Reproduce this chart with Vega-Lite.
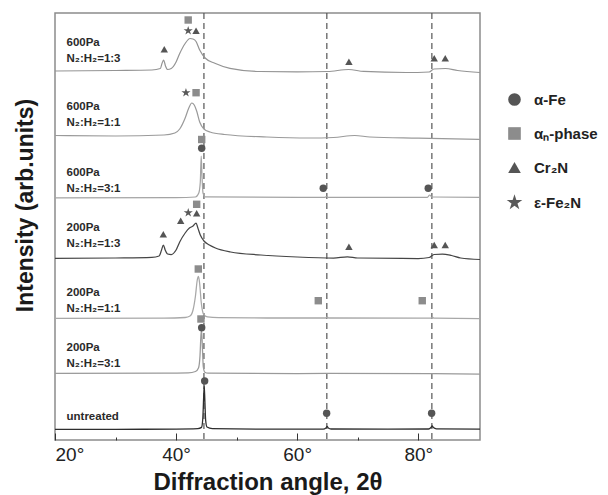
{
  "$schema": "https://vega.github.io/schema/vega-lite/v6.json",
  "width": 425,
  "height": 427,
  "autosize": {"type": "none"},
  "padding": {"left": 55, "top": 13, "right": 128, "bottom": 55},
  "background": "white",
  "config": {
    "font": "Liberation Sans",
    "view": {"stroke": "#8c8c8c", "strokeWidth": 1.5}
  },
  "datasets": {
    "refs": [{"x": 44.6}, {"x": 64.9}, {"x": 82.25}],
    "lines": [
      {"series": "untreated", "x": 20, "y": 10.6}, {"series": "untreated", "x": 30, "y": 10.7}, {"series": "untreated", "x": 40, "y": 10.9}, {"series": "untreated", "x": 43.6, "y": 11.3}, {"series": "untreated", "x": 44.2, "y": 12.6}, {"series": "untreated", "x": 44.42, "y": 22}, {"series": "untreated", "x": 44.55, "y": 42}, {"series": "untreated", "x": 44.65, "y": 54}, {"series": "untreated", "x": 44.75, "y": 40}, {"series": "untreated", "x": 44.88, "y": 20}, {"series": "untreated", "x": 45.1, "y": 13}, {"series": "untreated", "x": 46, "y": 11.4}, {"series": "untreated", "x": 55, "y": 10.9}, {"series": "untreated", "x": 64.3, "y": 10.9}, {"series": "untreated", "x": 64.75, "y": 12}, {"series": "untreated", "x": 64.95, "y": 13.6}, {"series": "untreated", "x": 65.15, "y": 12}, {"series": "untreated", "x": 65.6, "y": 11}, {"series": "untreated", "x": 75, "y": 10.8}, {"series": "untreated", "x": 81.7, "y": 11}, {"series": "untreated", "x": 82.1, "y": 12.5}, {"series": "untreated", "x": 82.3, "y": 14}, {"series": "untreated", "x": 82.5, "y": 12.5}, {"series": "untreated", "x": 83, "y": 11.2}, {"series": "untreated", "x": 90.2, "y": 10.8},
      {"series": "200Pa 3:1", "x": 20, "y": 66.6}, {"series": "200Pa 3:1", "x": 38, "y": 66.8}, {"series": "200Pa 3:1", "x": 42, "y": 67.2}, {"series": "200Pa 3:1", "x": 43.2, "y": 68.5}, {"series": "200Pa 3:1", "x": 43.7, "y": 72}, {"series": "200Pa 3:1", "x": 43.95, "y": 84}, {"series": "200Pa 3:1", "x": 44.12, "y": 106}, {"series": "200Pa 3:1", "x": 44.22, "y": 109}, {"series": "200Pa 3:1", "x": 44.35, "y": 92}, {"series": "200Pa 3:1", "x": 44.5, "y": 73}, {"series": "200Pa 3:1", "x": 44.75, "y": 67.8}, {"series": "200Pa 3:1", "x": 45.3, "y": 66.8}, {"series": "200Pa 3:1", "x": 60, "y": 66.4}, {"series": "200Pa 3:1", "x": 64.9, "y": 66.6}, {"series": "200Pa 3:1", "x": 82.3, "y": 66.4}, {"series": "200Pa 3:1", "x": 90.2, "y": 65.8},
      {"series": "200Pa 1:1", "x": 20, "y": 121.6}, {"series": "200Pa 1:1", "x": 38, "y": 121.8}, {"series": "200Pa 1:1", "x": 41.5, "y": 122.5}, {"series": "200Pa 1:1", "x": 42.3, "y": 124}, {"series": "200Pa 1:1", "x": 42.8, "y": 130}, {"series": "200Pa 1:1", "x": 43.2, "y": 144}, {"series": "200Pa 1:1", "x": 43.5, "y": 160}, {"series": "200Pa 1:1", "x": 43.7, "y": 163.5}, {"series": "200Pa 1:1", "x": 43.9, "y": 156}, {"series": "200Pa 1:1", "x": 44.15, "y": 138}, {"series": "200Pa 1:1", "x": 44.45, "y": 127}, {"series": "200Pa 1:1", "x": 44.7, "y": 124.5}, {"series": "200Pa 1:1", "x": 45.2, "y": 123.2}, {"series": "200Pa 1:1", "x": 47, "y": 122.4}, {"series": "200Pa 1:1", "x": 55, "y": 122}, {"series": "200Pa 1:1", "x": 64.7, "y": 122}, {"series": "200Pa 1:1", "x": 64.95, "y": 123}, {"series": "200Pa 1:1", "x": 65.2, "y": 122}, {"series": "200Pa 1:1", "x": 82.1, "y": 121.8}, {"series": "200Pa 1:1", "x": 82.35, "y": 122.8}, {"series": "200Pa 1:1", "x": 82.6, "y": 121.8}, {"series": "200Pa 1:1", "x": 90.2, "y": 121.4},
      {"series": "200Pa 1:3", "x": 20, "y": 181.6}, {"series": "200Pa 1:3", "x": 30, "y": 182}, {"series": "200Pa 1:3", "x": 36, "y": 182.6}, {"series": "200Pa 1:3", "x": 37.2, "y": 184}, {"series": "200Pa 1:3", "x": 37.6, "y": 190}, {"series": "200Pa 1:3", "x": 37.9, "y": 195}, {"series": "200Pa 1:3", "x": 38.2, "y": 190}, {"series": "200Pa 1:3", "x": 38.6, "y": 186}, {"series": "200Pa 1:3", "x": 39.2, "y": 185.5}, {"series": "200Pa 1:3", "x": 40, "y": 190}, {"series": "200Pa 1:3", "x": 40.6, "y": 198}, {"series": "200Pa 1:3", "x": 41.5, "y": 207}, {"series": "200Pa 1:3", "x": 42.2, "y": 212}, {"series": "200Pa 1:3", "x": 42.8, "y": 214}, {"series": "200Pa 1:3", "x": 43.3, "y": 217}, {"series": "200Pa 1:3", "x": 43.6, "y": 212}, {"series": "200Pa 1:3", "x": 44.0, "y": 205}, {"series": "200Pa 1:3", "x": 44.6, "y": 199}, {"series": "200Pa 1:3", "x": 45.5, "y": 195}, {"series": "200Pa 1:3", "x": 46.5, "y": 192}, {"series": "200Pa 1:3", "x": 49, "y": 188}, {"series": "200Pa 1:3", "x": 54, "y": 185}, {"series": "200Pa 1:3", "x": 60, "y": 183}, {"series": "200Pa 1:3", "x": 66, "y": 182}, {"series": "200Pa 1:3", "x": 68.3, "y": 183.2}, {"series": "200Pa 1:3", "x": 70, "y": 182}, {"series": "200Pa 1:3", "x": 80, "y": 181.5}, {"series": "200Pa 1:3", "x": 81.8, "y": 182.5}, {"series": "200Pa 1:3", "x": 82.6, "y": 185.5}, {"series": "200Pa 1:3", "x": 84, "y": 186}, {"series": "200Pa 1:3", "x": 85.5, "y": 184.5}, {"series": "200Pa 1:3", "x": 87, "y": 182}, {"series": "200Pa 1:3", "x": 90.2, "y": 180.5},
      {"series": "600Pa 3:1", "x": 20, "y": 242.2}, {"series": "600Pa 3:1", "x": 40, "y": 242.4}, {"series": "600Pa 3:1", "x": 43.2, "y": 243}, {"series": "600Pa 3:1", "x": 43.75, "y": 247}, {"series": "600Pa 3:1", "x": 44.0, "y": 258}, {"series": "600Pa 3:1", "x": 44.15, "y": 284}, {"series": "600Pa 3:1", "x": 44.28, "y": 264}, {"series": "600Pa 3:1", "x": 44.45, "y": 247}, {"series": "600Pa 3:1", "x": 44.8, "y": 243.2}, {"series": "600Pa 3:1", "x": 60, "y": 242.6}, {"series": "600Pa 3:1", "x": 64.5, "y": 242.6}, {"series": "600Pa 3:1", "x": 64.85, "y": 243.5}, {"series": "600Pa 3:1", "x": 65.15, "y": 242.6}, {"series": "600Pa 3:1", "x": 81.5, "y": 242.6}, {"series": "600Pa 3:1", "x": 81.9, "y": 245}, {"series": "600Pa 3:1", "x": 82.25, "y": 243}, {"series": "600Pa 3:1", "x": 90.2, "y": 242.6},
      {"series": "600Pa 1:1", "x": 20, "y": 304.5}, {"series": "600Pa 1:1", "x": 30, "y": 304}, {"series": "600Pa 1:1", "x": 38, "y": 305}, {"series": "600Pa 1:1", "x": 39.8, "y": 307}, {"series": "600Pa 1:1", "x": 40.6, "y": 311}, {"series": "600Pa 1:1", "x": 41.5, "y": 322}, {"series": "600Pa 1:1", "x": 42.1, "y": 332}, {"series": "600Pa 1:1", "x": 42.6, "y": 337}, {"series": "600Pa 1:1", "x": 43.0, "y": 335}, {"series": "600Pa 1:1", "x": 43.4, "y": 329}, {"series": "600Pa 1:1", "x": 43.9, "y": 318}, {"series": "600Pa 1:1", "x": 44.6, "y": 311}, {"series": "600Pa 1:1", "x": 45.6, "y": 308}, {"series": "600Pa 1:1", "x": 48, "y": 305.5}, {"series": "600Pa 1:1", "x": 55, "y": 303}, {"series": "600Pa 1:1", "x": 62, "y": 302}, {"series": "600Pa 1:1", "x": 66, "y": 302.5}, {"series": "600Pa 1:1", "x": 69.5, "y": 304.5}, {"series": "600Pa 1:1", "x": 72, "y": 303}, {"series": "600Pa 1:1", "x": 80, "y": 301.8}, {"series": "600Pa 1:1", "x": 90.2, "y": 300.5},
      {"series": "600Pa 1:3", "x": 20, "y": 369}, {"series": "600Pa 1:3", "x": 30, "y": 369.5}, {"series": "600Pa 1:3", "x": 36, "y": 370}, {"series": "600Pa 1:3", "x": 37.4, "y": 371.5}, {"series": "600Pa 1:3", "x": 37.7, "y": 377}, {"series": "600Pa 1:3", "x": 37.95, "y": 380}, {"series": "600Pa 1:3", "x": 38.25, "y": 374}, {"series": "600Pa 1:3", "x": 38.6, "y": 370.5}, {"series": "600Pa 1:3", "x": 39.2, "y": 371.5}, {"series": "600Pa 1:3", "x": 40, "y": 378}, {"series": "600Pa 1:3", "x": 40.6, "y": 386.5}, {"series": "600Pa 1:3", "x": 41.5, "y": 396.5}, {"series": "600Pa 1:3", "x": 42.3, "y": 401.5}, {"series": "600Pa 1:3", "x": 42.8, "y": 401}, {"series": "600Pa 1:3", "x": 43.3, "y": 398.5}, {"series": "600Pa 1:3", "x": 43.9, "y": 390}, {"series": "600Pa 1:3", "x": 44.8, "y": 382}, {"series": "600Pa 1:3", "x": 46.4, "y": 376.7}, {"series": "600Pa 1:3", "x": 48.9, "y": 371.7}, {"series": "600Pa 1:3", "x": 53.9, "y": 368.5}, {"series": "600Pa 1:3", "x": 60, "y": 368.2}, {"series": "600Pa 1:3", "x": 65, "y": 368.5}, {"series": "600Pa 1:3", "x": 68.5, "y": 370.5}, {"series": "600Pa 1:3", "x": 71, "y": 368.6}, {"series": "600Pa 1:3", "x": 78, "y": 367.5}, {"series": "600Pa 1:3", "x": 81.8, "y": 368}, {"series": "600Pa 1:3", "x": 82.6, "y": 371}, {"series": "600Pa 1:3", "x": 84.5, "y": 371.5}, {"series": "600Pa 1:3", "x": 86.5, "y": 369.5}, {"series": "600Pa 1:3", "x": 90.2, "y": 367.5}
    ],
    "marks": [
      {"phase": "α-Fe", "x": 44.23, "y": 291.7}, {"phase": "α-Fe", "x": 64.31, "y": 251.7}, {"phase": "α-Fe", "x": 81.65, "y": 251.7}, {"phase": "α-Fe", "x": 44.23, "y": 112.3}, {"phase": "α-Fe", "x": 44.72, "y": 59}, {"phase": "α-Fe", "x": 64.87, "y": 26.7}, {"phase": "α-Fe", "x": 82.21, "y": 26.7},
      {"phase": "αₙ-phase", "x": 42.0, "y": 420}, {"phase": "αₙ-phase", "x": 43.3, "y": 347.3}, {"phase": "αₙ-phase", "x": 44.23, "y": 300.5}, {"phase": "αₙ-phase", "x": 43.4, "y": 235.7}, {"phase": "αₙ-phase", "x": 43.67, "y": 171}, {"phase": "αₙ-phase", "x": 63.49, "y": 139.3}, {"phase": "αₙ-phase", "x": 80.66, "y": 139.3}, {"phase": "αₙ-phase", "x": 44.11, "y": 121},
      {"phase": "Cr₂N", "x": 38.05, "y": 390.7}, {"phase": "Cr₂N", "x": 43.3, "y": 409.3}, {"phase": "Cr₂N", "x": 68.55, "y": 378.3}, {"phase": "Cr₂N", "x": 82.64, "y": 381.7}, {"phase": "Cr₂N", "x": 84.46, "y": 381.7}, {"phase": "Cr₂N", "x": 37.89, "y": 205.7}, {"phase": "Cr₂N", "x": 40.76, "y": 219.3}, {"phase": "Cr₂N", "x": 43.4, "y": 226.7}, {"phase": "Cr₂N", "x": 68.55, "y": 193.3}, {"phase": "Cr₂N", "x": 82.64, "y": 195}, {"phase": "Cr₂N", "x": 84.46, "y": 195},
      {"phase": "ε-Fe₂N", "x": 42.0, "y": 409.3}, {"phase": "ε-Fe₂N", "x": 41.63, "y": 347.3}, {"phase": "ε-Fe₂N", "x": 42.01, "y": 227.3}
    ],
    "labels": [
      {"label": "600Pa\nN₂:H₂=1:3", "x": 21.9, "y": 397.5},
      {"label": "600Pa\nN₂:H₂=1:1", "x": 21.9, "y": 332.7},
      {"label": "600Pa\nN₂:H₂=3:1", "x": 21.9, "y": 267.5},
      {"label": "200Pa\nN₂:H₂=1:3", "x": 21.9, "y": 211.7},
      {"label": "200Pa\nN₂:H₂=1:1", "x": 21.9, "y": 146.7},
      {"label": "200Pa\nN₂:H₂=3:1", "x": 21.9, "y": 91.7},
      {"label": "untreated", "x": 21.9, "y": 22.7}
    ]
  },
  "encoding": {
    "x": {
      "field": "x", "type": "quantitative",
      "scale": {"domain": [20, 90.2], "nice": false, "zero": false},
      "axis": {
        "values": [20, 30, 40, 50, 60, 70, 80],
        "labelExpr": "datum.value % 20 === 0 ? datum.value + '°' : ''",
        "tickSize": {"condition": {"test": "datum.value % 20 === 0", "value": -7}, "value": -3},
        "tickColor": "#333333",
        "tickWidth": 1,
        "domain": false,
        "grid": false,
        "labelFontSize": 19,
        "labelColor": "#222222",
        "labelBaseline": "alphabetic",
        "labelPadding": 27,
        "labelOverlap": false,
        "title": "Diffraction angle, 2θ",
        "titleFontSize": 24,
        "titleFontWeight": "bold",
        "titleColor": "#1a1a1a",
        "titleBaseline": "alphabetic",
        "titleY": 49
      }
    }
  },
  "layer": [
    {
      "data": {"name": "refs"},
      "mark": {"type": "rule", "color": "#555555", "strokeWidth": 1.2, "strokeDash": [6, 4]},
      "encoding": {}
    },
    {
      "data": {"name": "lines"},
      "mark": {"type": "line", "interpolate": "monotone"},
      "encoding": {
        "y": {
          "field": "y", "type": "quantitative",
          "scale": {"domain": [0, 427], "nice": false, "zero": false},
          "axis": {"title": "Intensity (arb.units)", "labels": false, "ticks": false, "domain": false, "grid": false, "titleFontSize": 23, "titleFontWeight": "bold", "titleColor": "#1a1a1a", "titleBaseline": "alphabetic", "titleX": -23, "titleY": 192}
        },
        "detail": {"field": "series"},
        "stroke": {
          "field": "series", "type": "nominal", "legend": null,
          "scale": {"domain": ["untreated", "200Pa 3:1", "200Pa 1:1", "200Pa 1:3", "600Pa 3:1", "600Pa 1:1", "600Pa 1:3"], "range": ["#2e2e2e", "#9a9a9a", "#a8a8a8", "#454545", "#a4a4a4", "#9a9a9a", "#949494"]}
        },
        "strokeWidth": {
          "field": "series", "type": "nominal", "legend": null,
          "scale": {"domain": ["untreated", "200Pa 3:1", "200Pa 1:1", "200Pa 1:3", "600Pa 3:1", "600Pa 1:1", "600Pa 1:3"], "range": [1.3, 1.2, 1.2, 2.6, 1.2, 2.4, 2.6]}
        }
      }
    },
    {
      "data": {"name": "marks"},
      "mark": {"type": "point", "filled": true, "size": 55, "opacity": 1},
      "encoding": {
        "y": {
          "field": "y", "type": "quantitative",
          "scale": {"domain": [0, 427], "nice": false, "zero": false},
          "axis": {"title": "Intensity (arb.units)", "labels": false, "ticks": false, "domain": false, "grid": false, "titleFontSize": 23, "titleFontWeight": "bold", "titleColor": "#1a1a1a", "titleBaseline": "alphabetic", "titleX": -23, "titleY": 192}
        },
        "color": {
          "field": "phase", "type": "nominal",
          "scale": {"domain": ["α-Fe", "αₙ-phase", "Cr₂N", "ε-Fe₂N"], "range": ["#555555", "#8c8c8c", "#555555", "#5a5a5a"]},
          "legend": {"orient": "none", "legendX": 452, "legendY": 79, "title": null, "direction": "vertical", "labelFontSize": 15, "labelFontWeight": "bold", "labelColor": "#222222", "symbolSize": 160, "labelOffset": 12, "rowPadding": 18, "padding": 0}
        },
        "shape": {
          "field": "phase", "type": "nominal",
          "scale": {"domain": ["α-Fe", "αₙ-phase", "Cr₂N", "ε-Fe₂N"], "range": ["circle", "square", "triangle-up", "M0,-1.3L0.292,-0.402L1.236,-0.402L0.472,0.153L0.764,1.052L0,0.497L-0.764,1.052L-0.472,0.153L-1.236,-0.402L-0.292,-0.402Z"]},
          "legend": {"orient": "none", "legendX": 452, "legendY": 79, "title": null, "direction": "vertical", "labelFontSize": 15, "labelFontWeight": "bold", "labelColor": "#222222", "symbolSize": 160, "labelOffset": 12, "rowPadding": 18, "padding": 0}
        }
      }
    },
    {
      "data": {"name": "labels"},
      "mark": {"type": "text", "align": "left", "baseline": "middle", "fontSize": 11.5, "fontWeight": "bold", "color": "#2a2a2a", "lineBreak": "\n", "lineHeight": 16},
      "encoding": {
        "y": {
          "field": "y", "type": "quantitative",
          "scale": {"domain": [0, 427], "nice": false, "zero": false},
          "axis": {"title": "Intensity (arb.units)", "labels": false, "ticks": false, "domain": false, "grid": false, "titleFontSize": 23, "titleFontWeight": "bold", "titleColor": "#1a1a1a", "titleBaseline": "alphabetic", "titleX": -23, "titleY": 192}
        },
        "text": {"field": "label"}
      }
    }
  ]
}
